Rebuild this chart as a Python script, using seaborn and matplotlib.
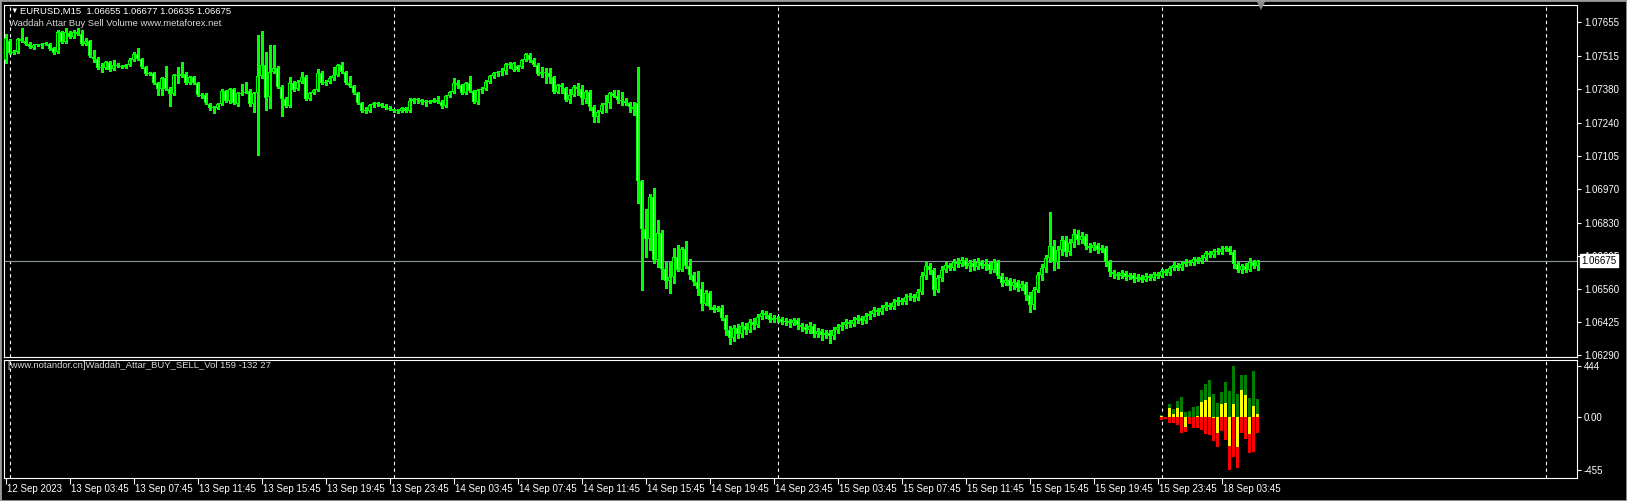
import numpy as np
import pandas as pd
import matplotlib
matplotlib.use("Agg")
import matplotlib.pyplot as plt
import seaborn as sns
from matplotlib.patches import Rectangle
from matplotlib.transforms import ScaledTranslation

# EURUSD M15, 12 Sep 23:45 .. 18 Sep 06:00
# prices kept in points (1e-5) above 1.06000
OPEN_PTS = [
    1498, 1576, 1527, 1531, 1584, 1576, 1564, 1547, 1560, 1560,
    1564, 1564, 1547, 1531, 1613, 1572, 1609, 1592, 1613, 1605,
    1564, 1576, 1510, 1502, 1465, 1465, 1490, 1461, 1478, 1473,
    1469, 1478, 1498, 1523, 1502, 1469, 1441, 1445, 1404, 1379,
    1424, 1379, 1359, 1437, 1432, 1441, 1404, 1428, 1404, 1355,
    1355, 1318, 1301, 1301, 1318, 1371, 1330, 1379, 1318, 1363,
    1363, 1371, 1318, 1363, 1432, 1478, 1346, 1449, 1465, 1387,
    1338, 1309, 1404, 1379, 1408, 1428, 1338, 1363, 1375, 1445,
    1404, 1408, 1424, 1437, 1478, 1449, 1404, 1391, 1363, 1322,
    1289, 1289, 1314, 1322, 1318, 1309, 1301, 1297, 1289, 1289,
    1301, 1289, 1330, 1338, 1334, 1326, 1330, 1326, 1334, 1326,
    1309, 1350, 1367, 1404, 1396, 1363, 1404, 1371, 1326, 1375,
    1379, 1408, 1432, 1445, 1449, 1453, 1482, 1457, 1473, 1469,
    1498, 1519, 1498, 1478, 1441, 1449, 1445, 1428, 1367, 1396,
    1383, 1334, 1355, 1387, 1379, 1338, 1367, 1305, 1264, 1285,
    1314, 1322, 1363, 1350, 1334, 1330, 1322, 1305, 1322, 1002,
    805, 764, 936, 678, 789, 641, 592, 608, 690, 637,
    723, 653, 617, 588, 559, 498, 543, 485, 473, 481,
    440, 391, 358, 399, 375, 407, 391, 424, 411, 444,
    461, 452, 432, 440, 436, 424, 428, 420, 432, 411,
    403, 391, 407, 375, 387, 370, 379, 366, 391, 403,
    411, 424, 416, 432, 440, 428, 448, 457, 473, 465,
    481, 494, 485, 506, 514, 506, 526, 530, 522, 547,
    612, 653, 637, 555, 604, 637, 658, 645, 670, 662,
    678, 653, 666, 649, 670, 653, 662, 637, 670, 612,
    584, 596, 571, 588, 563, 580, 535, 494, 555, 617,
    645, 686, 735, 670, 719, 760, 711, 748, 785, 760,
    776, 735, 727, 740, 719, 727, 670, 629, 621, 612,
    625, 608, 617, 600, 608, 596, 612, 604, 621, 612,
    633, 625, 645, 658, 645, 662, 670, 666, 682, 674,
    686, 707, 699, 715, 711, 723, 727, 711, 662, 637,
    653, 637, 670, 655,
]
HIGH_PTS = [
    1605, 1584, 1539, 1588, 1629, 1592, 1572, 1564, 1564, 1569,
    1572, 1568, 1551, 1621, 1617, 1629, 1617, 1621, 1629, 1621,
    1588, 1580, 1539, 1510, 1486, 1494, 1494, 1498, 1486, 1478,
    1482, 1506, 1531, 1547, 1506, 1473, 1449, 1449, 1408, 1428,
    1473, 1387, 1441, 1469, 1490, 1449, 1432, 1432, 1408, 1363,
    1363, 1322, 1309, 1322, 1379, 1375, 1383, 1383, 1367, 1400,
    1408, 1379, 1367, 1600, 1617, 1531, 1560, 1560, 1473, 1395,
    1346, 1428, 1412, 1416, 1449, 1437, 1367, 1379, 1461, 1453,
    1416, 1432, 1469, 1482, 1490, 1453, 1432, 1395, 1367, 1326,
    1305, 1318, 1326, 1326, 1322, 1318, 1309, 1297, 1297, 1305,
    1305, 1342, 1342, 1342, 1338, 1334, 1334, 1343, 1350, 1334,
    1355, 1371, 1424, 1416, 1400, 1408, 1432, 1375, 1379, 1387,
    1416, 1437, 1449, 1453, 1465, 1486, 1490, 1490, 1478, 1502,
    1527, 1527, 1506, 1486, 1469, 1465, 1465, 1432, 1400, 1404,
    1387, 1379, 1395, 1404, 1395, 1375, 1375, 1314, 1293, 1322,
    1355, 1367, 1375, 1375, 1367, 1342, 1326, 1326, 1469, 1006,
    887, 949, 973, 842, 801, 670, 670, 727, 740, 731,
    756, 682, 629, 633, 588, 555, 551, 494, 489, 494,
    452, 407, 411, 416, 424, 420, 436, 440, 457, 473,
    469, 461, 452, 448, 444, 440, 436, 440, 440, 420,
    416, 424, 416, 399, 395, 391, 391, 403, 416, 424,
    436, 432, 444, 452, 448, 461, 469, 485, 481, 494,
    506, 502, 518, 526, 522, 539, 543, 539, 559, 629,
    670, 666, 645, 617, 653, 670, 666, 682, 686, 690,
    686, 678, 682, 686, 678, 682, 670, 682, 678, 625,
    608, 604, 600, 596, 592, 588, 547, 567, 629, 662,
    699, 875, 760, 735, 776, 776, 764, 805, 801, 793,
    785, 748, 752, 748, 740, 735, 678, 637, 629, 637,
    633, 625, 625, 621, 617, 625, 621, 629, 629, 641,
    641, 653, 670, 666, 674, 682, 678, 690, 690, 699,
    715, 715, 723, 727, 735, 735, 735, 719, 670, 662,
    666, 686, 678, 677,
]
LOW_PTS = [
    1486, 1523, 1523, 1527, 1572, 1560, 1547, 1543, 1555, 1547,
    1560, 1539, 1523, 1527, 1568, 1568, 1588, 1588, 1600, 1560,
    1560, 1510, 1490, 1461, 1449, 1461, 1453, 1457, 1469, 1465,
    1465, 1473, 1494, 1498, 1465, 1437, 1437, 1400, 1355, 1355,
    1375, 1309, 1355, 1404, 1428, 1400, 1400, 1400, 1350, 1342,
    1318, 1293, 1281, 1297, 1314, 1326, 1322, 1318, 1309, 1355,
    1363, 1309, 1285, 1108, 1424, 1293, 1301, 1445, 1383, 1268,
    1305, 1305, 1371, 1375, 1404, 1334, 1334, 1359, 1371, 1400,
    1396, 1404, 1416, 1432, 1445, 1400, 1387, 1359, 1318, 1285,
    1281, 1285, 1305, 1309, 1305, 1297, 1293, 1285, 1281, 1285,
    1285, 1285, 1322, 1322, 1318, 1309, 1322, 1326, 1322, 1301,
    1305, 1346, 1363, 1383, 1359, 1359, 1367, 1322, 1318, 1363,
    1375, 1404, 1424, 1432, 1437, 1441, 1465, 1453, 1453, 1465,
    1494, 1490, 1473, 1437, 1428, 1404, 1404, 1363, 1363, 1363,
    1330, 1322, 1350, 1355, 1318, 1322, 1293, 1244, 1244, 1281,
    1285, 1301, 1346, 1322, 1314, 1314, 1285, 1272, 912, 555,
    690, 719, 666, 649, 600, 563, 543, 584, 633, 633,
    645, 600, 576, 535, 473, 494, 477, 465, 469, 432,
    370, 334, 346, 358, 362, 375, 383, 395, 403, 436,
    440, 424, 424, 424, 416, 411, 403, 411, 395, 387,
    379, 379, 362, 362, 350, 358, 338, 354, 379, 391,
    399, 403, 407, 420, 416, 420, 436, 448, 452, 457,
    473, 477, 477, 494, 498, 498, 514, 510, 514, 539,
    600, 621, 535, 547, 592, 629, 637, 637, 649, 653,
    645, 633, 637, 641, 645, 637, 625, 629, 604, 571,
    576, 555, 559, 551, 555, 514, 465, 477, 547, 596,
    629, 670, 637, 645, 699, 694, 699, 731, 744, 748,
    723, 711, 719, 707, 711, 653, 612, 604, 600, 604,
    596, 600, 588, 592, 588, 592, 596, 596, 604, 608,
    617, 617, 637, 637, 637, 653, 658, 658, 666, 666,
    678, 690, 690, 703, 703, 715, 703, 645, 629, 625,
    629, 633, 645, 635,
]
CLOSE_PTS = [
    1588, 1527, 1531, 1584, 1576, 1564, 1551, 1560, 1560, 1564,
    1564, 1543, 1527, 1613, 1572, 1613, 1592, 1613, 1605, 1564,
    1576, 1514, 1502, 1465, 1465, 1490, 1457, 1478, 1473, 1469,
    1478, 1498, 1523, 1502, 1469, 1441, 1445, 1404, 1379, 1424,
    1379, 1359, 1437, 1432, 1441, 1404, 1428, 1404, 1355, 1350,
    1322, 1301, 1305, 1318, 1371, 1330, 1379, 1322, 1363, 1359,
    1367, 1318, 1363, 1432, 1478, 1342, 1449, 1465, 1387, 1338,
    1309, 1404, 1375, 1408, 1428, 1338, 1363, 1375, 1445, 1404,
    1408, 1424, 1437, 1478, 1449, 1404, 1391, 1363, 1322, 1289,
    1289, 1314, 1322, 1318, 1309, 1301, 1297, 1289, 1289, 1301,
    1289, 1330, 1338, 1334, 1326, 1330, 1326, 1334, 1326, 1309,
    1350, 1367, 1404, 1396, 1363, 1404, 1371, 1326, 1375, 1379,
    1408, 1432, 1445, 1449, 1453, 1482, 1478, 1486, 1457, 1498,
    1523, 1498, 1478, 1441, 1449, 1445, 1428, 1367, 1396, 1387,
    1334, 1355, 1387, 1379, 1342, 1367, 1305, 1264, 1285, 1314,
    1322, 1363, 1350, 1334, 1330, 1322, 1305, 1297, 1002, 805,
    764, 936, 678, 789, 641, 592, 608, 690, 637, 723,
    653, 617, 588, 559, 498, 543, 485, 473, 481, 440,
    391, 358, 399, 375, 407, 391, 424, 411, 444, 461,
    452, 432, 440, 436, 424, 428, 420, 432, 411, 403,
    391, 407, 375, 387, 370, 379, 366, 391, 403, 411,
    424, 416, 432, 440, 428, 448, 457, 473, 465, 481,
    494, 485, 506, 514, 506, 526, 530, 522, 547, 612,
    653, 637, 555, 604, 637, 658, 645, 670, 662, 678,
    653, 666, 649, 670, 653, 662, 637, 670, 612, 584,
    596, 571, 588, 563, 580, 535, 494, 555, 617, 645,
    686, 735, 670, 719, 760, 711, 748, 785, 760, 776,
    735, 727, 740, 719, 727, 670, 629, 621, 612, 625,
    608, 617, 600, 608, 596, 612, 604, 621, 612, 633,
    625, 645, 658, 645, 662, 670, 666, 682, 674, 686,
    707, 699, 715, 711, 723, 727, 711, 662, 637, 653,
    637, 670, 655, 675,
]

# Waddah Attar buy/sell volume, only computed from 18 Sep 00:00 on
VOL_FIRST_BAR = 289
BUY_VOL = [18, 6, 112, 69, 138, 173, 43, 52, 86, 95, 233, 285, 320,
           199, 121, 216, 302, 225, 444, 199, 363, 363, 164, 400, 159]
NET_VOL = [15, 6, 78, 26, 78, 43, -81, 6, 0, 9, 130, 147, 173,
           -5, -138, 112, 121, -251, 112, -259, 233, 190, -147, 100, 27]
SELL_VOL = [-26, -15, -46, -52, -69, -138, -130, -60, -95, -95, -112, -147, -156,
            -207, -259, -121, -199, -455, -346, -440, -138, -190, -311, -300, -132]

TIME_LABELS = ['12 Sep 2023', '13 Sep 03:45', '13 Sep 07:45', '13 Sep 11:45', '13 Sep 15:45',
               '13 Sep 19:45', '13 Sep 23:45', '14 Sep 03:45', '14 Sep 07:45', '14 Sep 11:45',
               '14 Sep 15:45', '14 Sep 19:45', '14 Sep 23:45', '15 Sep 03:45', '15 Sep 07:45',
               '15 Sep 11:45', '15 Sep 15:45', '15 Sep 19:45', '15 Sep 23:45', '18 Sep 03:45']
DAY_START_BARS = [1, 97, 193, 289, 385]
PRICE_TICKS = [1.07655, 1.07515, 1.07380, 1.07240, 1.07105, 1.06970,
               1.06830, 1.06695, 1.06560, 1.06425, 1.06290]
VOL_TICKS = [444, 0, -455]
VOL_TICK_LABELS = ['444', '0.00', '-455']

bars = pd.DataFrame({
    'open': 1.06 + np.array(OPEN_PTS) * 1e-5,
    'high': 1.06 + np.array(HIGH_PTS) * 1e-5,
    'low': 1.06 + np.array(LOW_PTS) * 1e-5,
    'close': 1.06 + np.array(CLOSE_PTS) * 1e-5,
})
bars['bar'] = np.arange(len(bars))
bars['bear'] = bars['close'] < bars['open']
last = bars.iloc[-1]

LIME = '#00FF00'
FS = 7
Y_BOT, Y_TOP = 1.06280, 1.07724
PX = (Y_TOP - Y_BOT) / 352   # one screen pixel of the price panel, in price

sns.set_theme(style="dark", rc={
    "axes.facecolor": "black", "figure.facecolor": "black",
    "axes.edgecolor": "white", "axes.linewidth": 0.8,
    "text.color": "white", "xtick.color": "white", "ytick.color": "white",
    "axes.grid": False, "patch.force_edgecolor": False,
})
plt.rcParams['font.family'] = ['Liberation Sans', 'DejaVu Sans']

W, H = 1627, 501
fig = plt.figure(figsize=(W / 100, H / 100), dpi=100)


def px_rect(l, t, r, b):
    return [l / W, 1 - b / H, (r - l) / W, (b - t) / H]


ax = fig.add_axes(px_rect(4, 5, 1577, 357))
axv = fig.add_axes(px_rect(4, 360, 1577, 478), sharex=ax)

# candles: wick, lime body, then a 1px fill inside (bull black, bear white)
lo = np.minimum(bars['open'], bars['close']).to_numpy()
hi = np.maximum(bars['open'], bars['close']).to_numpy()
xs = bars['bar'].to_numpy()
ax.vlines(xs, bars['low'], bars['high'], color=LIME, lw=0.75, antialiased=False, zorder=2)
ax.bar(xs, np.maximum(hi - lo, PX), bottom=lo, width=0.75, color=LIME,
       linewidth=0, antialiased=False, zorder=3)
inner = (hi - lo) > 2.5 * PX
fills = np.where(bars['bear'], 'white', 'black')
ax.bar(xs[inner], (hi - lo - 2 * PX)[inner], bottom=(lo + PX)[inner], width=0.27,
       color=fills[inner], linewidth=0, antialiased=False, zorder=4)

ax.axhline(last['close'], color='#8C96A0', lw=0.8, zorder=1.5)

for b in DAY_START_BARS:
    for a in (ax, axv):
        a.axvline(b, color='white', lw=0.8, ls=(0, (3, 3)), zorder=1)

ax.set_xlim(-0.4, 392.8)
ax.set_ylim(Y_BOT, Y_TOP)

ax.yaxis.tick_right()
ax.set_yticks(PRICE_TICKS)
ax.set_yticklabels([f'{v:.5f}' for v in PRICE_TICKS])
ax.tick_params(axis='y', length=3, width=0.8, pad=2, labelsize=FS, right=True, left=False)
ax.tick_params(axis='x', bottom=False, labelbottom=False)

ax.annotate(f"{last['close']:.5f}", xy=(1, last['close']), xycoords=('axes fraction', 'data'),
            xytext=(3, 0), textcoords='offset points', ha='left', va='center',
            color='black', fontsize=FS, annotation_clip=False, zorder=10,
            bbox=dict(boxstyle='square,pad=0.15', fc='white', ec='white'))

# chart shift marker
ax.plot(len(bars) - 0.2, Y_TOP, marker='v', color='#8A8A8A', ms=7, mew=0,
        clip_on=False, zorder=5)

# volume panel
vx = np.arange(VOL_FIRST_BAR, VOL_FIRST_BAR + len(BUY_VOL))
axv.bar(vx, BUY_VOL, width=0.8, color='#008000', linewidth=0, antialiased=False, zorder=3)
axv.bar(vx, SELL_VOL, width=0.8, color='#FF0000', linewidth=0, antialiased=False, zorder=3)
axv.bar(vx, NET_VOL, width=0.8, color='#FFFF00', linewidth=0, antialiased=False, zorder=4)
axv.set_ylim(-524, 496)
axv.yaxis.tick_right()
axv.set_yticks(VOL_TICKS)
axv.set_yticklabels(VOL_TICK_LABELS)
axv.tick_params(axis='y', length=3, width=0.8, pad=2, labelsize=FS, right=True, left=False)

axv.set_xticks(np.arange(len(TIME_LABELS)) * 16)
axv.set_xticklabels(TIME_LABELS, ha='left')
axv.tick_params(axis='x', length=4, width=0.8, pad=0, labelsize=FS, bottom=True)
shift = ScaledTranslation(1 / 100, 0, fig.dpi_scale_trans)
for lab in axv.get_xticklabels():
    lab.set_transform(lab.get_transform() + shift)

for a in (ax, axv):
    for s in a.spines.values():
        s.set_color('white')
        s.set_linewidth(0.8)

# header texts
fig.text(10 / W, 1 - 11.5 / H, '\u25bc', fontsize=5.5, color='white', va='center', ha='left')
fig.text(20 / W, 1 - 11.5 / H,
         f"EURUSD,M15  {last['open']:.5f} {last['high']:.5f} {last['low']:.5f} {last['close']:.5f}",
         fontsize=6.8, color='white', va='center', ha='left')
fig.text(9 / W, 1 - 24 / H, 'Waddah Attar Buy Sell Volume www.metaforex.net',
         fontsize=6.8, color='#D8D8D8', va='center', ha='left')
fig.text(8 / W, 1 - 366 / H,
         f'[www.notandor.cn]Waddah_Attar_BUY_SELL_Vol {BUY_VOL[-1]} {SELL_VOL[-1]} {NET_VOL[-1]}',
         fontsize=6.8, color='#D8D8D8', va='center', ha='left')

fig.patches.append(Rectangle((0, 0), 1, 1, transform=fig.transFigure, fill=False,
                             ec='#9A9A9A', lw=2))

fig.savefig('out.png', dpi=100, facecolor='black')
